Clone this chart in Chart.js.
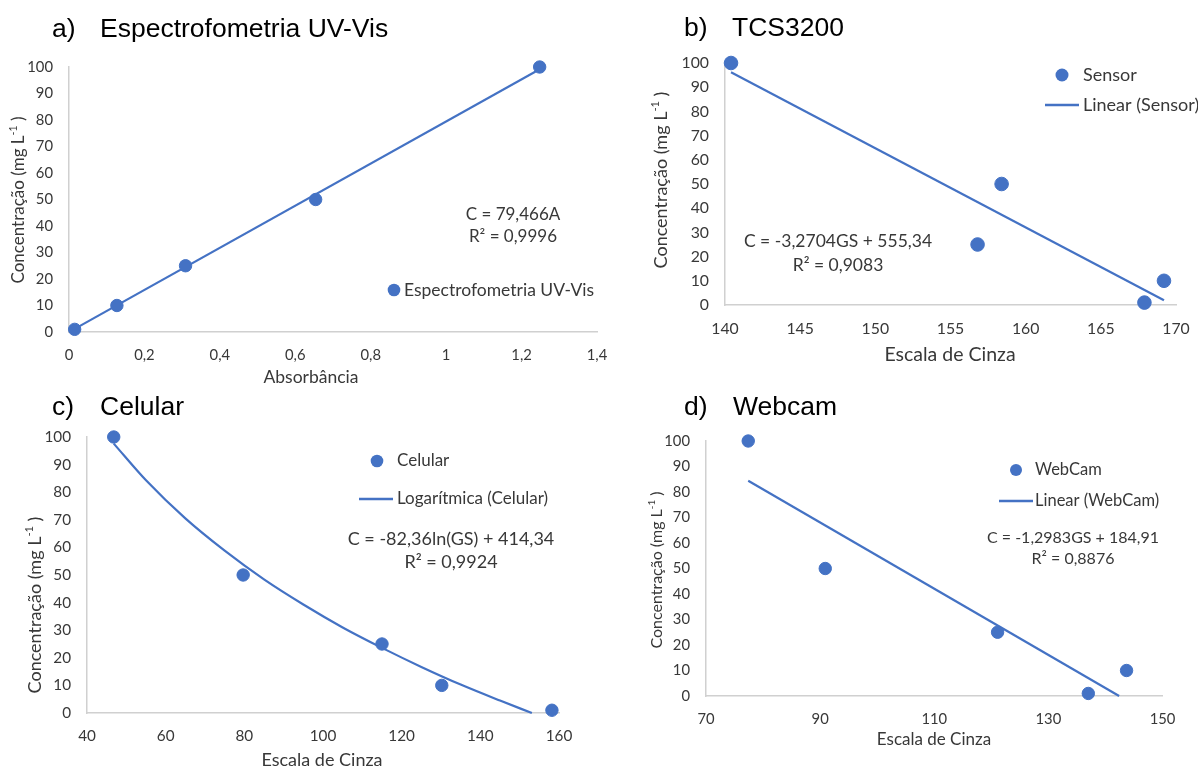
<!DOCTYPE html>
<html>
<head>
<meta charset="utf-8">
<script src="https://cdn.jsdelivr.net/npm/chart.js@4/dist/chart.umd.min.js"></script>
<style>
  body { margin: 0; background: #fff; }
  #page { position: relative; width: 1198px; height: 769px; overflow: hidden; }
  #page canvas { position: absolute; left: 0; top: 0; }
  .ttl { position: absolute; font-family: "Liberation Sans", Arial, sans-serif; font-size: 26.5px; line-height: 30px; color: #000; white-space: nowrap; }
</style>
</head>
<body>
<div id="page">
  <canvas id="chartA" width="1198" height="769"></canvas>
  <canvas id="chartB" width="1198" height="769"></canvas>
  <canvas id="chartC" width="1198" height="769"></canvas>
  <canvas id="chartD" width="1198" height="769"></canvas>
  <div class="ttl" style="left:52px;top:13px">a)</div>
  <div class="ttl" style="left:100px;top:13px">Espectrofometria UV-Vis</div>
  <div class="ttl" style="left:684px;top:12px">b)</div>
  <div class="ttl" style="left:732px;top:12px">TCS3200</div>
  <div class="ttl" style="left:52px;top:391px">c)</div>
  <div class="ttl" style="left:100px;top:391px">Celular</div>
  <div class="ttl" style="left:684px;top:391px">d)</div>
  <div class="ttl" style="left:733px;top:391px">Webcam</div>
</div>
<script>
// a) Espectrofometria UV-Vis
var absX = [0.015, 0.127, 0.309, 0.654, 1.248];
var absY = [1, 10, 25, 50, 100];
var absFitX = [0.015, 1.248];
var absFitY = [1.19, 99.17];

// b) TCS3200
var tcsX = [167.9, 169.2, 156.8, 158.4, 140.4];
var tcsY = [1, 10, 25, 50, 100];
var tcsFitX = [140.4, 169.2];
var tcsFitY = [96.2, 2.0];

// c) Celular (log trend read along the curve)
var celX = [158.2, 130.2, 115.0, 79.7, 46.8];
var celY = [1, 10, 25, 50, 100];
var celFitX = [46.8, 55, 65, 75, 85, 95, 105, 115, 125, 135, 145, 153.1];
var celFitY = [97.6, 84.3, 70.5, 58.8, 48.4, 39.3, 31.0, 23.6, 16.7, 10.3, 4.5, 0];

// d) Webcam
var camX = [137.0, 143.7, 121.1, 90.9, 77.4];
var camY = [1, 10, 25, 50, 100];
var camFitX = [77.4, 142.4];
var camFitY = [84.4, 0];

var BLUE = '#4472C4';
var INK = '#383838';
var FONT = 'Lato, "Open Sans", sans-serif';

function pts(xs, ys) {
  return xs.map(function (x, i) { return { x: x, y: ys[i] }; });
}

function comma(v) {
  return String(Number(v.toFixed(2))).replace('.', ',');
}

// draws a run of text parts, where {sup:true} parts are raised and smaller
function richText(ctx, parts, x, y, size, align) {
  var widths = parts.map(function (p) {
    ctx.font = (p.sup ? size * 0.62 : size) + 'px ' + FONT;
    return ctx.measureText(p.t).width;
  });
  var total = widths.reduce(function (a, b) { return a + b; }, 0);
  var cx = align === 'left' ? x : x - total / 2;
  ctx.textAlign = 'left';
  ctx.textBaseline = 'middle';
  parts.forEach(function (p, i) {
    ctx.font = (p.sup ? size * 0.62 : size) + 'px ' + FONT;
    ctx.fillText(p.t, cx, p.sup ? y - size * 0.33 : y);
    cx += widths[i];
  });
}

// legend keys, equations and axis captions drawn on top of the plot
function notes(cfg) {
  return {
    id: 'notes',
    afterDatasetsDraw: function (chart) {
      var ctx = chart.ctx;
      ctx.save();
      ctx.fillStyle = INK;
      cfg.keys.forEach(function (k) {
        if (k.kind === 'dot') {
          ctx.fillStyle = BLUE;
          ctx.beginPath();
          ctx.arc(k.mx, k.y, k.r, 0, Math.PI * 2);
          ctx.fill();
        } else {
          ctx.strokeStyle = BLUE;
          ctx.lineWidth = 2.5;
          ctx.beginPath();
          ctx.moveTo(k.mx - 17, k.y);
          ctx.lineTo(k.mx + 17, k.y);
          ctx.stroke();
        }
        ctx.fillStyle = INK;
        richText(ctx, [{ t: k.label }], k.tx, k.y, cfg.keySize, 'left');
      });
      cfg.eq.forEach(function (line, i) {
        richText(ctx, [{ t: line }], cfg.eqX, cfg.eqY + i * cfg.eqGap, cfg.eqSize, 'center');
      });
      richText(ctx, [{ t: cfg.xTitle }], cfg.xTitleAt[0], cfg.xTitleAt[1], cfg.xTitleSize, 'center');
      ctx.translate(cfg.yTitleAt[0], cfg.yTitleAt[1]);
      ctx.rotate(-Math.PI / 2);
      richText(ctx, [{ t: 'Concentração (mg L' }, { t: '-1', sup: true }, { t: ' )' }], 0, 0, cfg.yTitleSize, 'center');
      ctx.restore();
    }
  };
}

function makeChart(id, p) {
  return new Chart(document.getElementById(id), {
    type: 'scatter',
    data: {
      datasets: [{
        label: p.name,
        data: pts(p.x, p.y),
        backgroundColor: BLUE,
        borderColor: BLUE,
        pointRadius: p.r,
        pointHoverRadius: p.r,
        clip: false
      }, {
        label: p.fitName,
        data: pts(p.fitX, p.fitY),
        showLine: true,
        borderColor: BLUE,
        borderWidth: 2.2,
        pointRadius: 0,
        tension: p.curve ? 0.4 : 0,
        cubicInterpolationMode: p.curve ? 'monotone' : 'default',
        clip: false
      }]
    },
    options: {
      responsive: false,
      animation: false,
      events: [],
      layout: { padding: p.pad },
      plugins: { legend: { display: false }, tooltip: { enabled: false } },
      scales: {
        x: {
          type: 'linear',
          min: p.xMin, max: p.xMax,
          grid: { display: false, drawTicks: false },
          border: { color: '#d0d0d0', width: 1.5 },
          ticks: {
            stepSize: p.xStep, padding: 14, color: INK,
            font: { family: FONT, size: p.tick },
            callback: comma
          },
          afterFit: function (s) { s.height = 30; s.paddingLeft = 0; s.paddingRight = 0; }
        },
        y: {
          min: 0, max: 100,
          grid: { display: false, drawTicks: false },
          border: { color: '#d0d0d0', width: 1.5 },
          ticks: {
            stepSize: 10, padding: 16, color: INK,
            font: { family: FONT, size: p.tick }
          },
          afterFit: function (s) { s.width = 50; s.paddingTop = 0; s.paddingBottom = 0; }
        }
      }
    },
    plugins: [notes(p.notes)]
  });
}

makeChart('chartA', {
  name: 'Espectrofometria UV-Vis', fitName: 'Linear',
  x: absX, y: absY, fitX: absFitX, fitY: absFitY, r: 6.2,
  xMin: 0, xMax: 1.4, xStep: 0.2, tick: 14.8,
  pad: { left: 19, right: 601, top: 67, bottom: 407 },
  notes: {
    keys: [{ kind: 'dot', mx: 394, r: 6.3, tx: 404, y: 290, label: 'Espectrofometria UV-Vis' }],
    keySize: 17.5,
    eq: ['C = 79,466A', 'R² = 0,9996'], eqX: 513, eqY: 215, eqGap: 22, eqSize: 17,
    xTitle: 'Absorbância', xTitleAt: [311, 377], xTitleSize: 17.5,
    yTitleAt: [19, 200], yTitleSize: 17
  }
});

makeChart('chartB', {
  name: 'Sensor', fitName: 'Linear (Sensor)',
  x: tcsX, y: tcsY, fitX: tcsFitX, fitY: tcsFitY, r: 6.8,
  xMin: 140, xMax: 170, xStep: 5, tick: 15.8,
  pad: { left: 675, right: 22, top: 63, bottom: 434 },
  notes: {
    keys: [
      { kind: 'dot', mx: 1062, r: 6.5, tx: 1083, y: 75, label: 'Sensor' },
      { kind: 'line', mx: 1062, tx: 1083, y: 105, label: 'Linear (Sensor)' }
    ],
    keySize: 18,
    eq: ['C = -3,2704GS + 555,34', 'R² = 0,9083'], eqX: 838, eqY: 241, eqGap: 24, eqSize: 17.5,
    xTitle: 'Escala de Cinza', xTitleAt: [950, 355], xTitleSize: 19.5,
    yTitleAt: [661, 180], yTitleSize: 18
  }
});

makeChart('chartC', {
  name: 'Celular', fitName: 'Logarítmica (Celular)',
  x: celX, y: celY, fitX: celFitX, fitY: celFitY, r: 6.2, curve: true,
  xMin: 40, xMax: 160, xStep: 20, tick: 15.3,
  pad: { left: 37, right: 639, top: 437, bottom: 26 },
  notes: {
    keys: [
      { kind: 'dot', mx: 377, r: 6.3, tx: 397, y: 461, label: 'Celular' },
      { kind: 'line', mx: 376, tx: 397, y: 499, label: 'Logarítmica (Celular)' }
    ],
    keySize: 17,
    eq: ['C = -82,36ln(GS) + 414,34', 'R² = 0,9924'], eqX: 451, eqY: 539, eqGap: 23, eqSize: 18,
    xTitle: 'Escala de Cinza', xTitleAt: [322, 760], xTitleSize: 18,
    yTitleAt: [35, 605], yTitleSize: 18
  }
});

makeChart('chartD', {
  name: 'WebCam', fitName: 'Linear (WebCam)',
  x: camX, y: camY, fitX: camFitX, fitY: camFitY, r: 6.2,
  xMin: 70, xMax: 150, xStep: 20, tick: 14.8,
  pad: { left: 656, right: 35.5, top: 441, bottom: 43 },
  notes: {
    keys: [
      { kind: 'dot', mx: 1016, r: 6, tx: 1035, y: 470, label: 'WebCam' },
      { kind: 'line', mx: 1016, tx: 1035, y: 501, label: 'Linear (WebCam)' }
    ],
    keySize: 16.5,
    eq: ['C = -1,2983GS + 184,91', 'R² = 0,8876'], eqX: 1073, eqY: 538, eqGap: 20.5, eqSize: 16,
    xTitle: 'Escala de Cinza', xTitleAt: [934, 740], xTitleSize: 17,
    yTitleAt: [657, 570], yTitleSize: 16
  }
});
</script>
</body>
</html>
